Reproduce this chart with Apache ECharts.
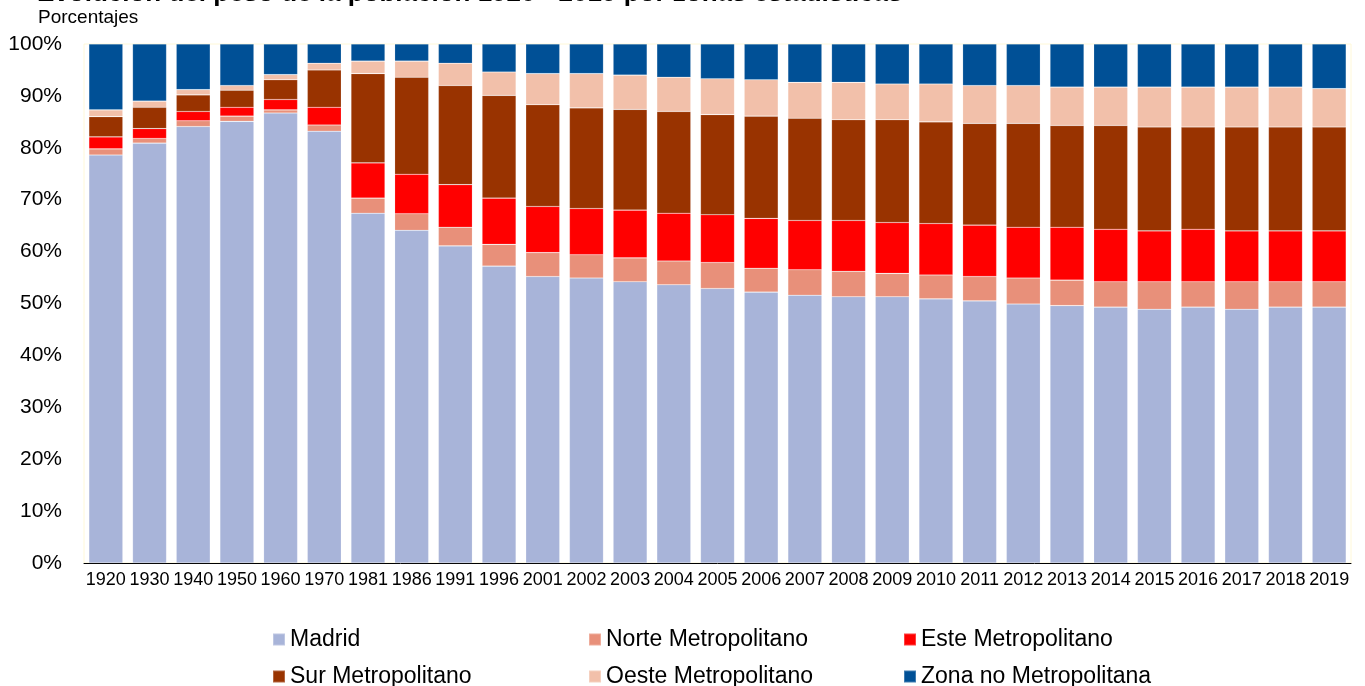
<!DOCTYPE html>
<html>
<head>
<meta charset="utf-8">
<title>Evolución del peso de la población</title>
<script src="https://cdn.jsdelivr.net/npm/echarts@6/dist/echarts.min.js"></script>
<style>
  html, body { margin: 0; padding: 0; background: #fff; }
  #chart { width: 1365px; height: 686px; }
</style>
</head>
<body>
<div id="chart"></div>
<script>
  // años
  var years = ['1920','1930','1940','1950','1960','1970','1981','1986','1991','1996',
               '2001','2002','2003','2004','2005','2006','2007','2008','2009','2010',
               '2011','2012','2013','2014','2015','2016','2017','2018','2019'];

  // porcentajes por zona
  var madrid = [78.6,80.9,84.1,85.1,86.7,83.2,67.4,64.1,61.1,57.2,
                55.2,54.9,54.2,53.6,52.9,52.2,51.6,51.3,51.3,50.9,
                50.5,49.9,49.6,49.3,48.9,49.3,48.9,49.3,49.3];
  var norte  = [1.2,0.9,1.1,1.0,0.6,1.2,2.9,3.2,3.6,4.2,
                4.6,4.5,4.6,4.6,5.0,4.6,4.9,4.9,4.5,4.6,
                4.7,5.0,4.9,4.9,5.3,4.9,5.3,4.9,4.9];
  var este   = [2.3,1.9,1.8,1.7,2.0,3.4,6.8,7.6,8.2,8.9,
                8.9,8.9,9.2,9.2,9.2,9.6,9.5,9.8,9.8,9.9,
                9.9,9.8,10.2,10.1,9.8,10.1,9.8,9.8,9.8];
  var sur    = [3.9,4.1,3.2,3.3,3.8,7.2,17.2,18.7,19.1,19.8,
                19.6,19.4,19.4,19.6,19.3,19.7,19.7,19.4,19.8,19.6,
                19.6,20.0,19.6,20.0,20.0,19.7,20.0,20.0,20.0];
  var oeste  = [1.3,1.2,1.0,0.9,1.0,1.3,2.4,3.1,4.3,4.5,
                6.0,6.6,6.6,6.6,6.9,7.0,6.9,7.2,6.9,7.3,
                7.3,7.3,7.4,7.4,7.7,7.7,7.7,7.7,7.4];
  var zonaNo = [12.7,11.0,8.8,8.0,5.9,3.7,3.3,3.3,3.7,5.4,
                5.7,5.7,6.0,6.4,6.7,6.9,7.4,7.4,7.7,7.7,
                8.0,8.0,8.3,8.3,8.3,8.3,8.3,8.3,8.6];

  var names  = ['Madrid','Norte Metropolitano','Este Metropolitano',
                'Sur Metropolitano','Oeste Metropolitano','Zona no Metropolitana'];
  var colors = ['#A8B4D9','#E8907A','#FF0000','#993300','#F2C0AA','#005096'];
  var values = [madrid, norte, este, sur, oeste, zonaNo];

  var font = 'Liberation Sans, Arial, sans-serif';
  var myChart = echarts.init(document.getElementById('chart'));

  var series = names.map(function (n, i) {
    return {
      name: n,
      type: 'bar',
      stack: 'total',
      barWidth: 34,
      data: values[i],
      itemStyle: { color: colors[i], borderColor: 'rgba(255,255,255,0.25)', borderWidth: 0.6 }
    };
  });

  // leyenda en dos filas de tres columnas
  var legX = [272, 588, 903];
  var legY = [628, 665];
  var legends = names.map(function (n, i) {
    return {
      data: [n],
      left: legX[i % 3],
      top: legY[Math.floor(i / 3)],
      icon: 'rect',
      itemWidth: 12,
      itemHeight: 12,
      itemGap: 0,
      padding: 0,
      textStyle: { fontFamily: font, fontSize: 23, color: '#000', padding: [0, 0, 0, 0] },
      selectedMode: false
    };
  });

  var option = {
    animation: false,
    textStyle: { fontFamily: font },
    title: [{
      text: 'Evolución del peso de la población 1920 - 2019 por zonas estadísticas',
      left: 37,
      top: -19,
      padding: 0,
      textStyle: { fontFamily: font, fontSize: 26, fontWeight: 'bold', color: '#000' }
    }, {
      text: 'Porcentajes',
      left: 38,
      top: 8,
      padding: 0,
      textStyle: { fontFamily: font, fontSize: 19, fontWeight: 'normal', color: '#000' }
    }],
    legend: legends,
    grid: {
      left: 84,
      right: 14,
      top: 44,
      bottom: 123,
      show: true,
      borderColor: '#FFF8D8',
      borderWidth: 1
    },
    xAxis: {
      type: 'category',
      data: years,
      axisLine: { lineStyle: { color: '#000', width: 1 } },
      axisTick: { alignWithLabel: false, length: 5, lineStyle: { color: '#000' } },
      axisLabel: { interval: 0, color: '#000', fontSize: 18, fontFamily: font, margin: 8 }
    },
    yAxis: {
      type: 'value',
      min: 0,
      max: 100,
      interval: 10,
      axisLine: { show: false },
      axisTick: { show: false },
      splitLine: { show: false },
      axisLabel: { formatter: '{value}%', color: '#000', fontSize: 21, fontFamily: font, margin: 22 }
    },
    series: series
  };

  myChart.setOption(option);
</script>
</body>
</html>
